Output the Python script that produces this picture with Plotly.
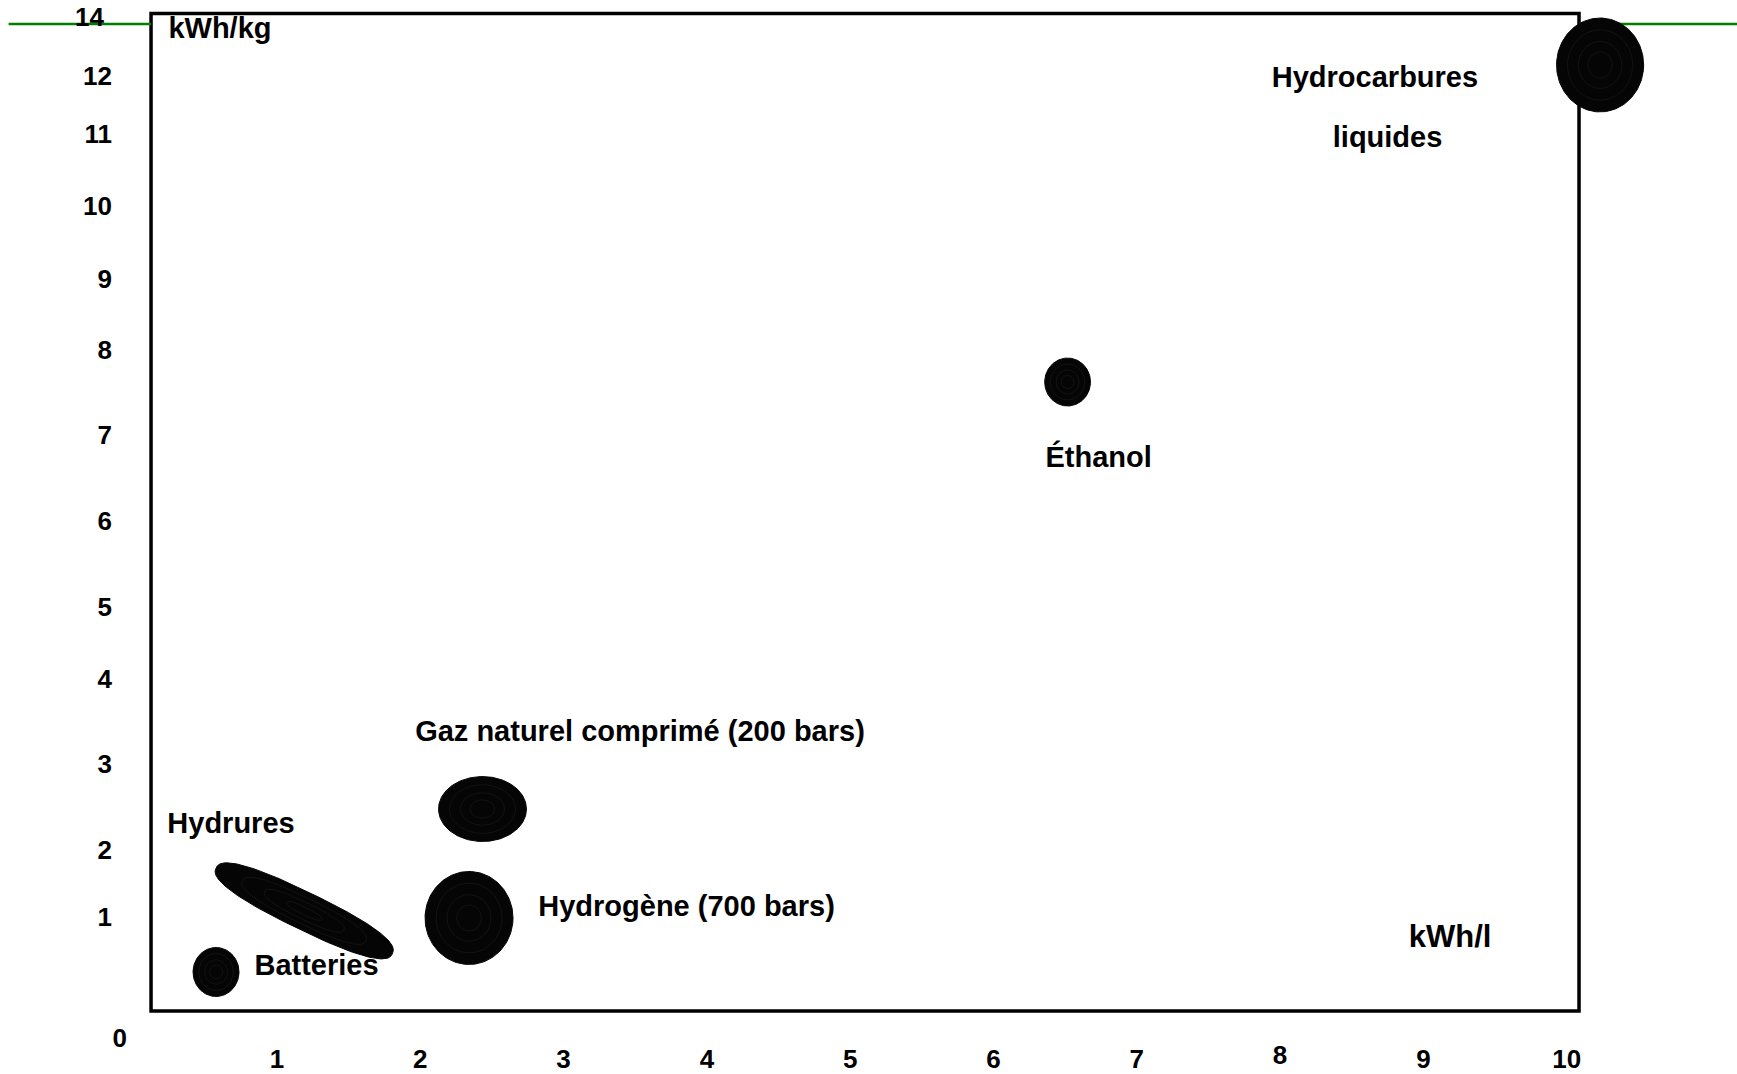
import numpy as np
import plotly.graph_objects as go

# ---------------- data ----------------
x_tick_labels = ["1", "2", "3", "4", "5", "6", "7", "8", "9", "10"]
x_tick_values = [1, 2, 3, 4, 5, 6, 7, 8, 9, 10]

y_tick_labels = ["14", "12", "11", "10", "9", "8", "7", "6", "5", "4", "3", "2", "1", "0"]
y_tick_values = [12.746, 11.976, 11.219, 10.280, 9.327, 8.400, 7.291, 6.168,
                 5.046, 4.106, 2.997, 1.875, 1.000, -0.580]

blob_names = ["Batteries", "Hydrogène (700 bars)", "Gaz naturel comprimé (200 bars)",
              "Éthanol", "Hydrocarbures liquides"]
blob_kwh_l_min = [0.414, 2.033, 2.127, 6.357, 9.929]
blob_kwh_l_max = [0.735, 2.647, 2.741, 6.677, 10.537]
blob_kwh_kg_min = [-0.038, 0.380, 1.985, 7.669, 11.507]
blob_kwh_kg_max = [0.602, 1.594, 2.833, 8.295, 12.733]

# Hydrures: elongated tilted region (end points)
hydrures_kwh_l = [0.575, 1.805]
hydrures_kwh_kg = [1.640, 0.520]
hydrures_thickness_ratio = 0.19

label_texts = ["kWh/kg", "Hydrocarbures", "liquides", "Éthanol",
               "Gaz naturel comprimé (200 bars)", "Hydrures", "Batteries",
               "Hydrogène (700 bars)", "kWh/l"]
label_x = [0.602, 8.662, 8.750, 6.734, 3.533, 0.679, 1.276, 3.858, 9.186]
label_y = [12.562, 11.926, 11.144, 6.966, 3.395, 2.195, 0.338, 1.110, 0.712]
label_size = [29, 29, 29, 29, 29, 29, 29, 29, 31]

# ---------------- layout constants ----------------
W, H = 1737, 1074
KX_PX, KY_PX = 143.3, 76.62          # pixels per data unit
X_RANGE = [-0.9330, -0.9330 + W / KX_PX]
Y_RANGE = [12.9679 - H / KY_PX, 12.9679]
FRAME_X = [0.121, 10.086]
FRAME_Y = [-0.227, 12.792]
GREEN_Y = 12.655

kx = W / (X_RANGE[1] - X_RANGE[0])
ky = H / (Y_RANGE[1] - Y_RANGE[0])

FONT = "Liberation Sans, Arial, sans-serif"
BLOB_COLOR = "#050505"
RING_COLOR = "#131313"

theta = np.linspace(0, 2 * np.pi, 200)

fig = go.Figure()

# labels (drawn first so that blobs overlap them, as in the reference)
fig.add_trace(go.Scatter(
    x=label_x, y=label_y, text=label_texts, mode="text",
    textposition="middle center",
    textfont=dict(family=FONT, size=label_size, color="black", weight="bold"),
    hoverinfo="skip", showlegend=False))


def add_blob(xs, ys):
    fig.add_trace(go.Scatter(x=xs, y=ys, mode="lines", fill="toself",
                             fillcolor=BLOB_COLOR, line=dict(color=BLOB_COLOR, width=1),
                             hoverinfo="skip", showlegend=False))


def add_ring(xs, ys):
    fig.add_trace(go.Scatter(x=xs, y=ys, mode="lines",
                             line=dict(color=RING_COLOR, width=1),
                             hoverinfo="skip", showlegend=False))


# axis-aligned blobs
for x0, x1, y0, y1 in zip(blob_kwh_l_min, blob_kwh_l_max, blob_kwh_kg_min, blob_kwh_kg_max):
    cx, cy = (x0 + x1) / 2, (y0 + y1) / 2
    rx, ry = (x1 - x0) / 2, (y1 - y0) / 2
    add_blob(cx + rx * np.cos(theta), cy + ry * np.sin(theta))
    for s in (0.75, 0.5, 0.28):
        add_ring(cx + s * rx * np.cos(theta), cy + s * ry * np.sin(theta))

# tilted Hydrures blob (built in pixel space so the shape is preserved)
p1 = np.array([hydrures_kwh_l[0] * kx, hydrures_kwh_kg[0] * ky])
p2 = np.array([hydrures_kwh_l[1] * kx, hydrures_kwh_kg[1] * ky])
c = (p1 + p2) / 2
half = np.linalg.norm(p2 - p1) / 2
u = (p2 - p1) / (2 * half)
v = np.array([-u[1], u[0]])
ct, st = np.cos(theta), np.sin(theta)
se_c = np.sign(ct) * np.abs(ct) ** 0.8   # slightly squarer than an ellipse
se_s = np.sign(st) * np.abs(st) ** 0.8
for s, fn in ((1.0, add_blob), (0.7, add_ring), (0.45, add_ring), (0.2, add_ring)):
    pts = (c[:, None] + s * half * se_c[None, :] * u[:, None]
           + s * half * hydrures_thickness_ratio * se_s[None, :] * v[:, None])
    fn(pts[0] / kx, pts[1] / ky)

# dummy traces so the extra tick axes exist
fig.add_trace(go.Scatter(x=[None], y=[None], xaxis="x2", yaxis="y",
                         hoverinfo="skip", showlegend=False))
fig.add_trace(go.Scatter(x=[None], y=[None], xaxis="x", yaxis="y2",
                         hoverinfo="skip", showlegend=False))
fig.add_trace(go.Scatter(x=[None], y=[None], xaxis="x", yaxis="y3",
                         hoverinfo="skip", showlegend=False))

# frame and green lines
shapes = [
    dict(type="rect", xref="x", yref="y", x0=FRAME_X[0], x1=FRAME_X[1],
         y0=FRAME_Y[0], y1=FRAME_Y[1], line=dict(color="black", width=3.5),
         fillcolor="rgba(0,0,0,0)", layer="below"),
    dict(type="line", xref="x", yref="y", x0=X_RANGE[0] + 0.06, x1=FRAME_X[0],
         y0=GREEN_Y, y1=GREEN_Y, line=dict(color="#008000", width=2.5), layer="below"),
    dict(type="line", xref="x", yref="y", x0=FRAME_X[1], x1=X_RANGE[1],
         y0=GREEN_Y, y1=GREEN_Y, line=dict(color="#008000", width=2.5), layer="below"),
]

tickfont = dict(family=FONT, size=26, color="black", weight="bold")

main_x = [(v_, t) for v_, t in zip(x_tick_values, x_tick_labels) if t != "8"]
raised_x = [(v_, t) for v_, t in zip(x_tick_values, x_tick_labels) if t == "8"]
main_y = [(v_, t) for v_, t in zip(y_tick_values, y_tick_labels) if t not in ("14", "0")]
y14 = [(v_, t) for v_, t in zip(y_tick_values, y_tick_labels) if t == "14"]
y0l = [(v_, t) for v_, t in zip(y_tick_values, y_tick_labels) if t == "0"]

axis_common = dict(showgrid=False, zeroline=False, showline=False, ticks="",
                   tickfont=tickfont, tickmode="array", fixedrange=True,
                   ticklabeloverflow="allow", automargin=False)

fig.update_layout(
    template="none",
    width=W, height=H, autosize=False,
    margin=dict(l=0, r=0, t=0, b=0, pad=0, autoexpand=False),
    plot_bgcolor="white", paper_bgcolor="white",
    showlegend=False,
    shapes=shapes,
    xaxis=dict(range=X_RANGE, anchor="free", position=1 - 1041 / H,
               tickvals=[a for a, _ in main_x], ticktext=[b for _, b in main_x],
               **axis_common),
    xaxis2=dict(range=X_RANGE, matches="x", overlaying="x", anchor="free",
                position=1 - 1037 / H,
                tickvals=[a for a, _ in raised_x], ticktext=[b for _, b in raised_x],
                **axis_common),
    yaxis=dict(range=Y_RANGE, anchor="free", position=112 / W,
               tickvals=[a for a, _ in main_y], ticktext=[b for _, b in main_y],
               **axis_common),
    yaxis2=dict(range=Y_RANGE, matches="y", overlaying="y", anchor="free",
                position=104 / W,
                tickvals=[a for a, _ in y14], ticktext=[b for _, b in y14],
                **axis_common),
    yaxis3=dict(range=Y_RANGE, matches="y", overlaying="y", anchor="free",
                position=127 / W,
                tickvals=[a for a, _ in y0l], ticktext=[b for _, b in y0l],
                **axis_common),
)

# remove the default page margin so the figure sits at the window's corner
fig.write_html(
    "out.html",
    config={"displayModeBar": False, "staticPlot": True},
    post_script=("document.documentElement.style.overflow='hidden';"
                 "document.body.style.margin='0';"
                 "document.body.style.overflow='hidden';"),
)
